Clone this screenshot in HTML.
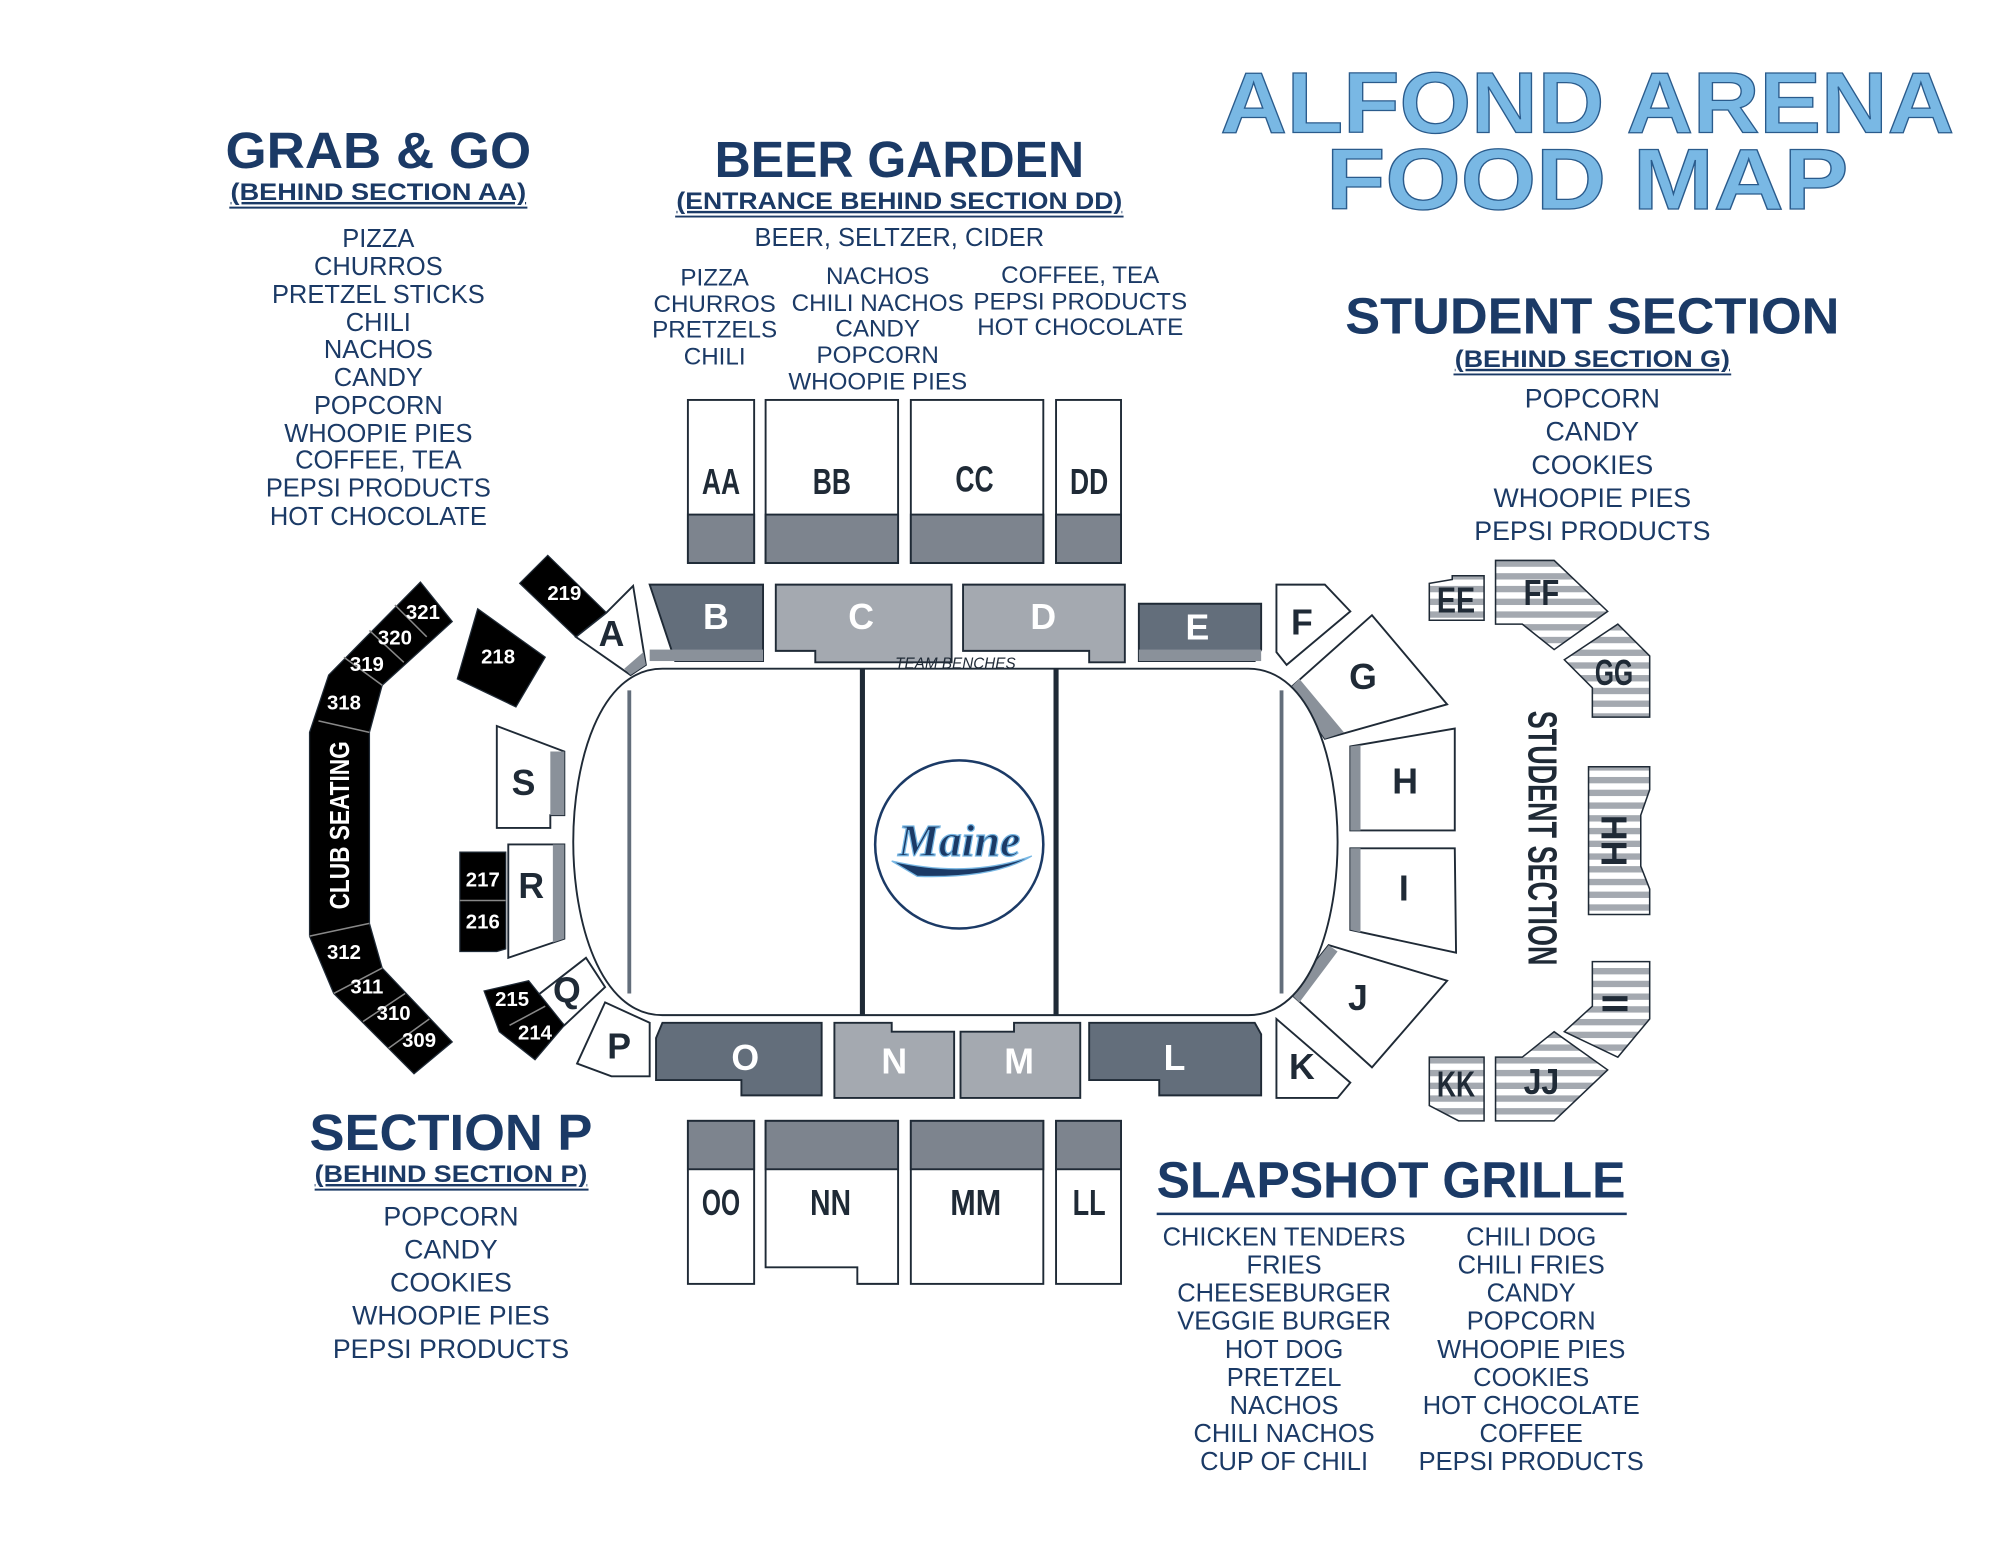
<!DOCTYPE html>
<html><head><meta charset="utf-8"><style>
html,body{margin:0;padding:0;background:#fff;}
svg{display:block;}
.n{font-family:"Liberation Sans",sans-serif;fill:#1b3a66;text-anchor:middle;}
.h{font-weight:bold;font-size:40px;}
.s{font-weight:bold;font-size:19px;text-decoration:underline;}
.i{font-size:20px;}
.sec{font-family:"Liberation Sans",sans-serif;font-weight:bold;text-anchor:middle;font-size:28px;}
.blk{font-family:"Liberation Sans",sans-serif;font-weight:bold;text-anchor:middle;font-size:16px;fill:#fff;}
</style></head><body>
<svg width="2000" height="1545" viewBox="0 0 1570 1213" preserveAspectRatio="none" xmlns="http://www.w3.org/2000/svg">
<defs>
<pattern id="st" width="10" height="10" patternUnits="userSpaceOnUse"><rect width="10" height="10" fill="#fff"/><rect width="10" height="5" fill="#a4a9b0"/></pattern>
</defs>
<rect width="1570" height="1213" fill="#fff"/>
<g font-family="Liberation Sans,sans-serif" font-weight="bold" fill="#79b8e4" stroke="#2a5b8c" stroke-width="1" text-anchor="middle">
<text x="1246" y="104" font-size="68" textLength="576" lengthAdjust="spacingAndGlyphs">ALFOND ARENA</text>
<text x="1246" y="164" font-size="68" textLength="410" lengthAdjust="spacingAndGlyphs">FOOD MAP</text>
</g>
<text class="n h" x="297" y="132" textLength="240" lengthAdjust="spacingAndGlyphs">GRAB &amp; GO</text>
<text class="n s" x="297" y="157" textLength="232" lengthAdjust="spacingAndGlyphs">(BEHIND SECTION AA)</text>
<line x1="180" y1="163" x2="414" y2="163" stroke="#1b3a66" stroke-width="1.5"/>
<g class="n i">
<text x="297" y="194">PIZZA</text><text x="297" y="216">CHURROS</text><text x="297" y="238">PRETZEL STICKS</text><text x="297" y="260">CHILI</text><text x="297" y="281">NACHOS</text><text x="297" y="303">CANDY</text><text x="297" y="325">POPCORN</text><text x="297" y="347">WHOOPIE PIES</text><text x="297" y="368">COFFEE, TEA</text><text x="297" y="390">PEPSI PRODUCTS</text><text x="297" y="412">HOT CHOCOLATE</text>
</g>
<text class="n h" x="706" y="139" textLength="290" lengthAdjust="spacingAndGlyphs">BEER GARDEN</text>
<text class="n s" x="706" y="164" textLength="350" lengthAdjust="spacingAndGlyphs">(ENTRANCE BEHIND SECTION DD)</text>
<line x1="530" y1="170" x2="882" y2="170" stroke="#1b3a66" stroke-width="1.5"/>
<text class="n i" x="706" y="193">BEER, SELTZER, CIDER</text>
<g class="n" font-size="19">
<text x="561" y="224">PIZZA</text><text x="561" y="245">CHURROS</text><text x="561" y="265">PRETZELS</text><text x="561" y="286">CHILI</text>
<text x="689" y="223">NACHOS</text><text x="689" y="244">CHILI NACHOS</text><text x="689" y="264">CANDY</text><text x="689" y="285">POPCORN</text><text x="689" y="306">WHOOPIE PIES</text>
<text x="848" y="222">COFFEE, TEA</text><text x="848" y="243">PEPSI PRODUCTS</text><text x="848" y="263">HOT CHOCOLATE</text>
</g>
<text class="n h" x="1250" y="262" textLength="388" lengthAdjust="spacingAndGlyphs">STUDENT SECTION</text>
<text class="n s" x="1250" y="288" textLength="216" lengthAdjust="spacingAndGlyphs">(BEHIND SECTION G)</text>
<line x1="1141" y1="294" x2="1359" y2="294" stroke="#1b3a66" stroke-width="1.5"/>
<g class="n" font-size="21">
<text x="1250" y="320">POPCORN</text><text x="1250" y="346">CANDY</text><text x="1250" y="372">COOKIES</text><text x="1250" y="398">WHOOPIE PIES</text><text x="1250" y="424">PEPSI PRODUCTS</text>
</g>
<text class="n h" x="354" y="903" textLength="222" lengthAdjust="spacingAndGlyphs">SECTION P</text>
<text class="n s" x="354" y="928" textLength="214" lengthAdjust="spacingAndGlyphs">(BEHIND SECTION P)</text>
<line x1="247" y1="934" x2="462" y2="934" stroke="#1b3a66" stroke-width="1.5"/>
<g class="n" font-size="21">
<text x="354" y="962">POPCORN</text><text x="354" y="988">CANDY</text><text x="354" y="1014">COOKIES</text><text x="354" y="1040">WHOOPIE PIES</text><text x="354" y="1066">PEPSI PRODUCTS</text>
</g>
<text class="n h" x="1092" y="940" textLength="368" lengthAdjust="spacingAndGlyphs">SLAPSHOT GRILLE</text>
<line x1="908" y1="953" x2="1277" y2="953" stroke="#1b3a66" stroke-width="2"/>
<g class="n i">
<text x="1008" y="978">CHICKEN TENDERS</text><text x="1008" y="1000">FRIES</text><text x="1008" y="1022">CHEESEBURGER</text><text x="1008" y="1044">VEGGIE BURGER</text><text x="1008" y="1066">HOT DOG</text><text x="1008" y="1088">PRETZEL</text><text x="1008" y="1110">NACHOS</text><text x="1008" y="1132">CHILI NACHOS</text><text x="1008" y="1154">CUP OF CHILI</text>
<text x="1202" y="978">CHILI DOG</text><text x="1202" y="1000">CHILI FRIES</text><text x="1202" y="1022">CANDY</text><text x="1202" y="1044">POPCORN</text><text x="1202" y="1066">WHOOPIE PIES</text><text x="1202" y="1088">COOKIES</text><text x="1202" y="1110">HOT CHOCOLATE</text><text x="1202" y="1132">COFFEE</text><text x="1202" y="1154">PEPSI PRODUCTS</text>
</g>

<g stroke="#1f2a36" stroke-width="1.5">
<rect x="540" y="314" width="52" height="128" fill="#fff"/><rect x="540" y="404" width="52" height="38" fill="#7d848e"/>
<rect x="601" y="314" width="104" height="128" fill="#fff"/><rect x="601" y="404" width="104" height="38" fill="#7d848e"/>
<rect x="715" y="314" width="104" height="128" fill="#fff"/><rect x="715" y="404" width="104" height="38" fill="#7d848e"/>
<rect x="829" y="314" width="51" height="128" fill="#fff"/><rect x="829" y="404" width="51" height="38" fill="#7d848e"/>
<rect x="540" y="880" width="52" height="128" fill="#fff"/><rect x="540" y="880" width="52" height="38" fill="#7d848e"/>
<path d="M601,880H705V1008H673V995H601Z" fill="#fff"/><rect x="601" y="880" width="104" height="38" fill="#7d848e"/>
<rect x="715" y="880" width="104" height="128" fill="#fff"/><rect x="715" y="880" width="104" height="38" fill="#7d848e"/>
<rect x="829" y="880" width="51" height="128" fill="#fff"/><rect x="829" y="880" width="51" height="38" fill="#7d848e"/>
</g>
<g class="sec" fill="#1f2a36">
<text x="566" y="388" textLength="30" lengthAdjust="spacingAndGlyphs">AA</text><text x="653" y="388" textLength="30" lengthAdjust="spacingAndGlyphs">BB</text><text x="765" y="386" textLength="30" lengthAdjust="spacingAndGlyphs">CC</text><text x="855" y="388" textLength="30" lengthAdjust="spacingAndGlyphs">DD</text>
<text x="566" y="954" textLength="30" lengthAdjust="spacingAndGlyphs">OO</text><text x="652" y="954" textLength="32" lengthAdjust="spacingAndGlyphs">NN</text><text x="766" y="954" textLength="40" lengthAdjust="spacingAndGlyphs">MM</text><text x="855" y="954" textLength="26" lengthAdjust="spacingAndGlyphs">LL</text>
</g>

<g stroke="#1f2a36" stroke-width="1.5">
<path d="M510,459H599V519H530Z" fill="#636e7b"/>
<path d="M609,459H747V520H640V511H609Z" fill="#a4a9b0"/>
<path d="M756,459H883V520H855V511H756Z" fill="#a4a9b0"/>
<path d="M894,474H990V510L985,519H894Z" fill="#636e7b"/>
<path d="M520,803H645V860H582V848H515V815Z" fill="#636e7b"/>
<path d="M655,803H700V810H749V862H655Z" fill="#a4a9b0"/>
<path d="M754,810H796V803H848V862H754Z" fill="#a4a9b0"/>
<path d="M855,803H985L990,812V860H910V848H855Z" fill="#636e7b"/>
<path d="M1002,459H1040L1060,480L1010,522L1002,512Z" fill="#fff"/>
<path d="M1013,540L1077,483L1136,553L1040,580Z" fill="#fff"/>
<path d="M1060,586L1142,572V652H1060Z" fill="#fff"/>
<path d="M1060,666H1142L1143,748L1060,730Z" fill="#fff"/>
<path d="M1013,780L1043,742L1136,770L1077,838Z" fill="#fff"/>
<path d="M1002,800L1060,850L1050,862H1002Z" fill="#fff"/>
<path d="M452,500L476,481L497,460L507,522L495,530Z" fill="#fff"/>
<path d="M390,570L443,590V640H432V650H390Z" fill="#fff"/>
<path d="M399,663H443V737L399,752Z" fill="#fff"/>
<path d="M420,783L460,752L475,775L443,805Z" fill="#fff"/>
<path d="M453,835L475,787L510,803V845H480Z" fill="#fff"/>
</g>
<g fill="#8a919a">
<path d="M1013,540L1020,533L1055,575L1040,580Z"/>
<path d="M1060,586L1068,585V652H1060Z"/>
<path d="M1060,666H1068V732L1060,730Z"/>
<path d="M1013,780L1020,787L1050,747L1043,742Z"/>
<path d="M432,590L443,590V640H432Z"/>
<path d="M434,663H443V737L434,740Z"/>
<path d="M495,530L507,522L505,512L490,525Z"/>
<rect x="510" y="510" width="89" height="9"/>
<rect x="894" y="510" width="96" height="9"/>
</g>
<g fill="#000" stroke="#1f2a36">
<path d="M408,458L430,436L476,481L452,500Z"/>
<path d="M359,533L375,478L428,516L405,555Z"/>
<path d="M361,669H397V745L390,747H361Z"/>
<path d="M380,778L415,770L443,805L420,832L392,810Z"/>
<path d="M330,457L355,488L300,538L290,575V725L300,760L355,818L325,843L262,780L243,735V575L258,530Z"/>
</g>
<g stroke="#888" stroke-width="1.2">
<line x1="310" y1="475" x2="335" y2="500"/><line x1="290" y1="495" x2="317" y2="520"/><line x1="270" y1="516" x2="300" y2="538"/><line x1="250" y1="566" x2="290" y2="575"/>
<line x1="243" y1="735" x2="290" y2="725"/><line x1="262" y1="780" x2="300" y2="760"/><line x1="285" y1="802" x2="318" y2="780"/><line x1="305" y1="823" x2="337" y2="800"/>
<line x1="361" y1="707" x2="397" y2="707"/><line x1="400" y1="805" x2="428" y2="790"/>
</g>
<g class="blk">
<text x="443" y="471">219</text><text x="391" y="521">218</text><text x="332" y="486">321</text><text x="310" y="506">320</text><text x="288" y="527">319</text><text x="270" y="557">318</text>
<text x="270" y="753">312</text><text x="288" y="780">311</text><text x="309" y="801">310</text><text x="329" y="822">309</text>
<text x="379" y="696">217</text><text x="379" y="729">216</text><text x="402" y="790">215</text><text x="420" y="816">214</text>
<text transform="translate(274,648) rotate(-90)" font-size="22" textLength="132" lengthAdjust="spacingAndGlyphs">CLUB SEATING</text>
</g>
<g class="sec" fill="#fff">
<text x="562" y="494">B</text><text x="676" y="494">C</text><text x="819" y="494">D</text><text x="940" y="502">E</text>
<text x="585" y="840">O</text><text x="702" y="843">N</text><text x="800" y="843">M</text><text x="922" y="840">L</text>
</g>
<g class="sec" fill="#1f2a36">
<text x="1022" y="498">F</text><text x="1070" y="541">G</text><text x="1103" y="623">H</text><text x="1102" y="707">I</text><text x="1066" y="793">J</text><text x="1022" y="847">K</text>
<text x="480" y="507">A</text><text x="411" y="624">S</text><text x="417" y="705">R</text><text x="445" y="787">Q</text><text x="486" y="831">P</text>
</g>
<text x="750" y="525" font-family="Liberation Sans,sans-serif" font-style="italic" font-size="12" text-anchor="middle" fill="#1f2a36">TEAM BENCHES</text>

<path d="M520,525H980C1030,525 1050,600 1050,661C1050,722 1030,797 980,797H520C470,797 450,722 450,661C450,600 470,525 520,525Z" fill="#fff" stroke="#1f2a36" stroke-width="1.5"/>
<line x1="494" y1="542" x2="494" y2="780" stroke="#636e7b" stroke-width="3"/>
<line x1="1006" y1="542" x2="1006" y2="780" stroke="#636e7b" stroke-width="3"/>
<line x1="677" y1="525" x2="677" y2="797" stroke="#1f2a36" stroke-width="4"/>
<line x1="829" y1="525" x2="829" y2="797" stroke="#1f2a36" stroke-width="4"/>
<circle cx="753" cy="663" r="66" fill="#fff" stroke="#1b3a66" stroke-width="2"/>
<path d="M700,676Q760,690 810,672Q780,690 720,688Z" fill="#1b3a66" stroke="#79b8e4" stroke-width="1"/>
<text x="753" y="672" font-family="Liberation Serif,serif" font-style="italic" font-weight="bold" font-size="36" text-anchor="middle" fill="#1b3a66" stroke="#79b8e4" stroke-width="1">Maine</text>

<g stroke="#1f2a36" stroke-width="1.2" fill="url(#st)">
<path d="M1122,458L1140,455V452H1165V487H1122Z"/>
<path d="M1174,440H1220L1262,480L1220,510L1195,490H1174Z"/>
<path d="M1228,518L1270,490L1295,515V563H1250V540Z"/>
<path d="M1247,602H1295V620L1288,640V680L1295,698V718H1247Z"/>
<path d="M1250,755H1295V800L1270,830L1228,810L1250,790Z"/>
<path d="M1174,830H1195L1220,810L1262,840L1220,880H1174Z"/>
<path d="M1122,830H1165V880H1145L1122,868Z"/>
</g>
<g class="sec" fill="#1f2a36">
<text x="1143" y="481" textLength="30" lengthAdjust="spacingAndGlyphs">EE</text><text x="1210" y="475" textLength="28" lengthAdjust="spacingAndGlyphs">FF</text><text x="1267" y="538" textLength="30" lengthAdjust="spacingAndGlyphs">GG</text><text x="1143" y="861" textLength="30" lengthAdjust="spacingAndGlyphs">KK</text><text x="1210" y="859" textLength="28" lengthAdjust="spacingAndGlyphs">JJ</text>
<text transform="translate(1257,660) rotate(90)">HH</text><text transform="translate(1258,788) rotate(90)">II</text>
<text transform="translate(1200,658) rotate(90)" font-size="32" textLength="200" lengthAdjust="spacingAndGlyphs">STUDENT SECTION</text>
</g>
</svg>
</body></html>
